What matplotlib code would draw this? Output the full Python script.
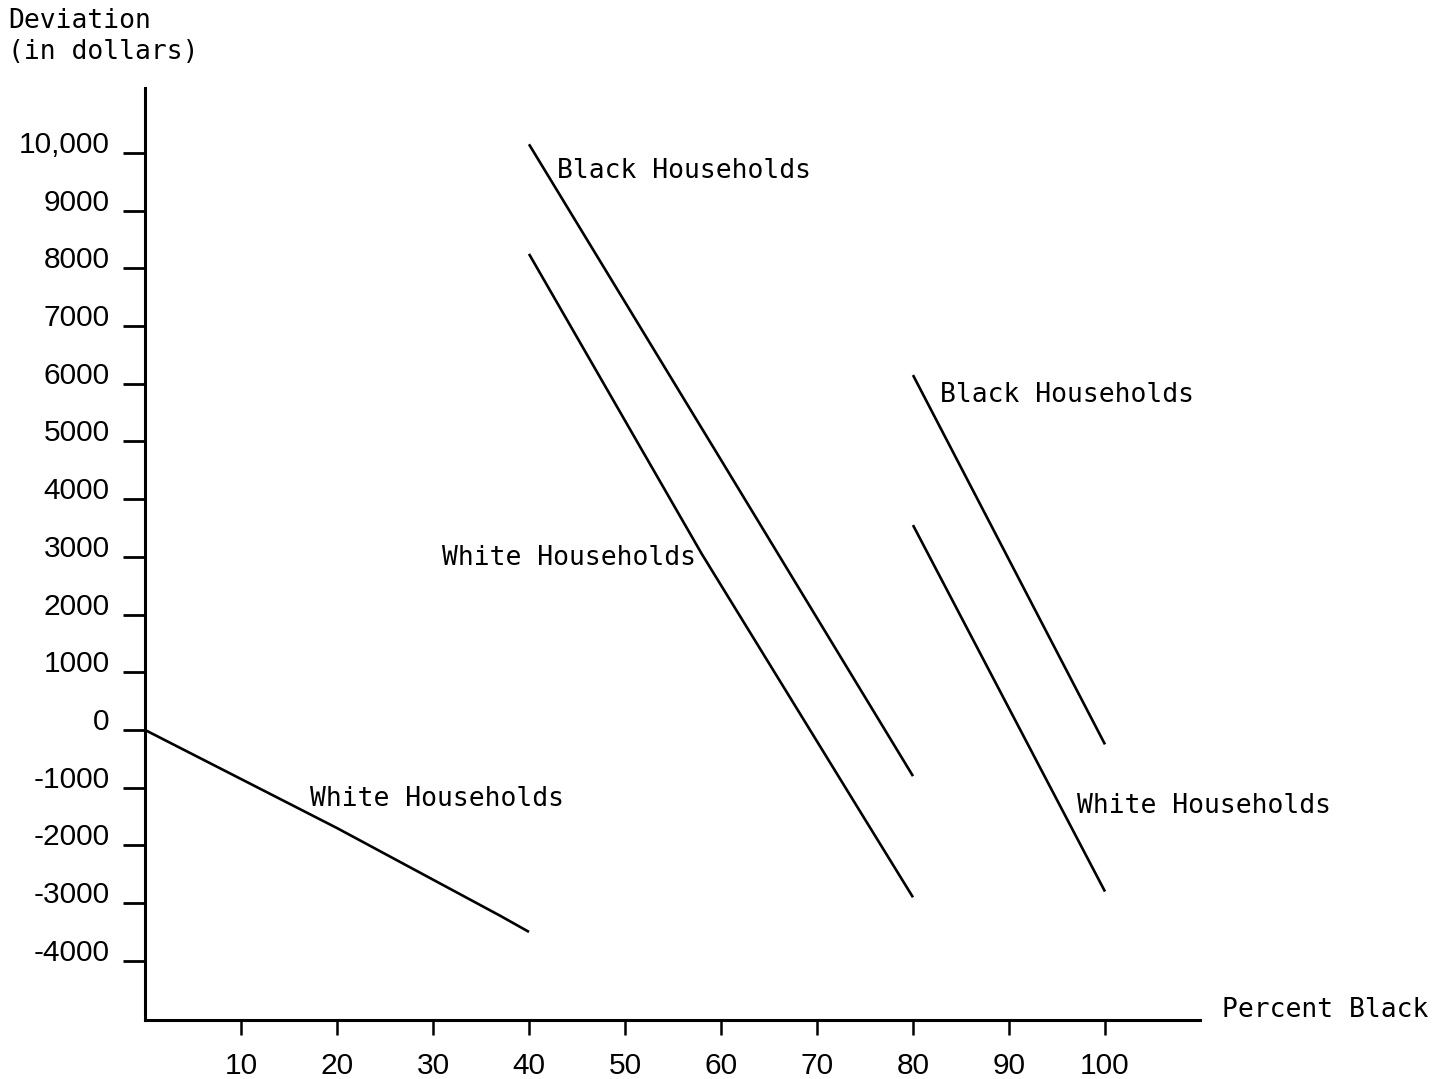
import matplotlib
matplotlib.use("Agg")
import matplotlib.pyplot as plt

# values
x_ticks = [10, 20, 30, 40, 50, 60, 70, 80, 90, 100]
y_ticks = [10000, 9000, 8000, 7000, 6000, 5000, 4000, 3000, 2000, 1000, 0,
           -1000, -2000, -3000, -4000]
y_tick_labels = ["10,000", "9000", "8000", "7000", "6000", "5000", "4000", "3000",
                 "2000", "1000", "0", "-1000", "-2000", "-3000", "-4000"]

white_low_x = [0, 20, 37, 40]
white_low_y = [0, -1700, -3220, -3500]

black_mid_x = [40, 60, 80]
black_mid_y = [10150, 4680, -800]

white_mid_x = [40, 58, 75, 80]
white_mid_y = [8250, 3050, -1550, -2900]

black_right_x = [80, 100]
black_right_y = [6150, -250]

white_right_x = [80, 100]
white_right_y = [3550, -2800]

labels = [("Black Households", 42.9, 9690),
          ("Black Households", 82.8, 5806),
          ("White Households", 30.9, 2981),
          ("White Households", 17.2, -1196),
          ("White Households", 97.1, -1317)]

mono = "DejaVu Sans Mono"
sans = "Liberation Sans"

fig = plt.figure(figsize=(14.5, 10.79), dpi=100)
ax = fig.add_axes([0.1, 0.0547, 0.7276, 0.8638])

lw = 1.9
for xs, ys in [(white_low_x, white_low_y), (black_mid_x, black_mid_y),
               (white_mid_x, white_mid_y), (black_right_x, black_right_y),
               (white_right_x, white_right_y)]:
    ax.plot(xs, ys, color="black", linewidth=lw, solid_capstyle="butt")

for txt, x, y in labels:
    ax.text(x, y, txt, fontsize=19, family=mono, va="center", ha="left")

ax.set_xlim(0, 109.9)
ax.set_ylim(-5026, 11126)

for s in ["top", "right"]:
    ax.spines[s].set_visible(False)
for s in ["left", "bottom"]:
    ax.spines[s].set_linewidth(2.2)

ax.set_xticks(x_ticks)
ax.set_xticklabels([str(v) for v in x_ticks], fontsize=21.5, family=sans)
ax.set_yticks(y_ticks)
ax.set_yticklabels(y_tick_labels, fontsize=21.5, family=sans)
for lbl in ax.get_yticklabels():
    lbl.set_verticalalignment("baseline")

ax.tick_params(axis="y", length=16, width=2, pad=9.5, direction="out")
ax.tick_params(axis="x", length=11, width=1.8, pad=12, direction="out")

fig.text(8 / 1450, 1 - 8 / 1079, "Deviation\n(in dollars)", fontsize=19,
         family=mono, va="top", ha="left", linespacing=1.25)
fig.text(1222 / 1450, 1 - 1010 / 1079, "Percent Black", fontsize=19,
         family=mono, va="center", ha="left")

fig.savefig("out.png", dpi=100)
